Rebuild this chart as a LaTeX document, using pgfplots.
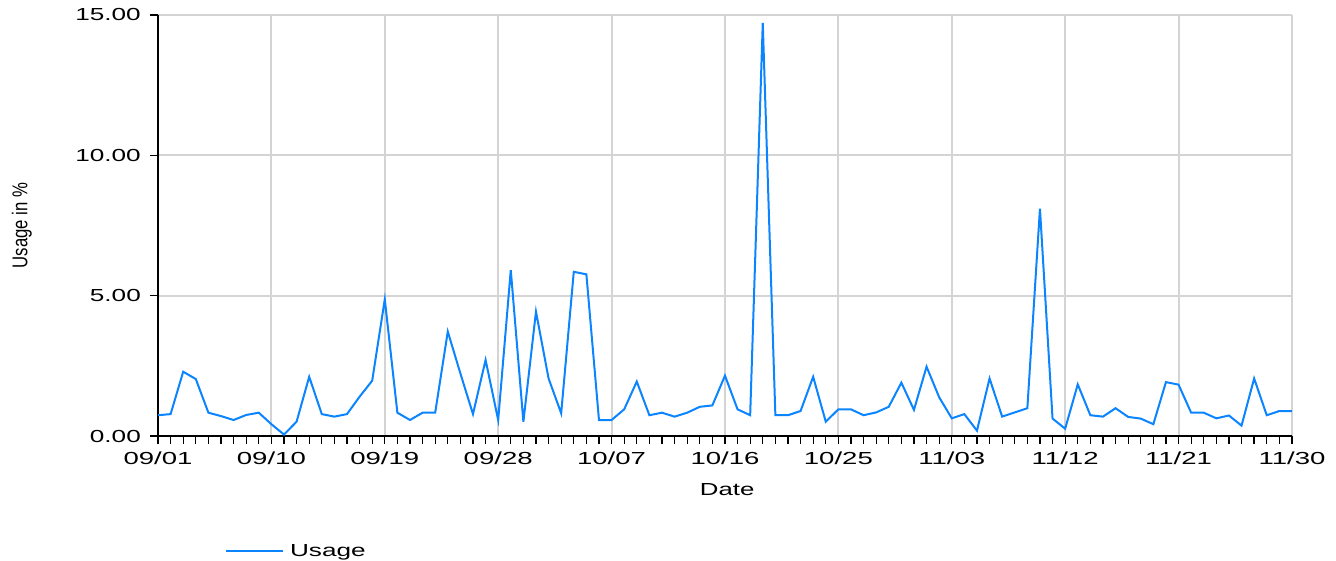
\documentclass[border=0pt]{standalone}
\usepackage{pgfplots}
\pgfplotsset{compat=1.18}
\usepackage{fontspec}
\setmainfont{Liberation Sans}
\newfontfamily\ytickfont[FakeStretch=1.5]{Liberation Sans}
\newfontfamily\xtickfont[FakeStretch=1.58]{Liberation Sans}
\newfontfamily\xlabfont[FakeStretch=1.48]{Liberation Sans}
\newfontfamily\legfont[FakeStretch=1.5]{Liberation Sans}
\newfontfamily\ylabfont[FakeStretch=0.78]{Liberation Sans}
\definecolor{usage}{RGB}{10,132,255}
\definecolor{gridgray}{RGB}{212,212,212}
\begin{document}
\begin{tikzpicture}
\useasboundingbox (0,0) rectangle (1336bp,561bp);
\begin{axis}[
  at={(158bp,125bp)}, anchor=south west,
  scale only axis, width=1134bp, height=421bp,
  xmin=0, xmax=90, ymin=0, ymax=15,
  axis x line=bottom, axis y line=left,
  axis line style={-, line width=1.6bp, black},
  xtick={0,9,...,90},
  xticklabels={09/01,09/10,09/19,09/28,10/07,10/16,10/25,11/03,11/12,11/21,11/30},
  minor x tick num=8,
  ytick={0,5,10,15}, yticklabels={0.00,5.00,10.00,15.00},
  tick align=outside, major tick length=8bp, minor tick length=8bp,
  every tick/.style={black, line width=1.3bp},
  every minor tick/.style={black, line width=1.3bp},
  grid=major, major grid style={gridgray, line width=2bp},
  xticklabel style={font=\xtickfont\fontsize{17.5}{17.5}\selectfont, inner sep=0pt, yshift=-8bp},
  yticklabel style={font=\ytickfont\fontsize{17.5}{17.5}\selectfont, inner sep=0pt, xshift=-9bp},
  xlabel={Date},
  xlabel style={at={(axis description cs:0.502,-0.127)}, anchor=center, font=\xlabfont\fontsize{17.5}{17.5}\selectfont},
  ylabel={Usage in \%},
  ylabel style={at={(axis description cs:-0.12,0.5)}, anchor=center, font=\ylabfont\fontsize{21.5}{21.5}\selectfont},
  legend style={at={(axis description cs:0.059,-0.273)}, anchor=west, draw=none, fill=none, inner sep=0pt, font=\legfont\fontsize{17.5}{17.5}\selectfont, nodes={inner xsep=6bp}},
  legend image code/.code={\draw[#1] (0bp,0bp) -- (57bp,0bp);},
]
\addplot[usage, line width=2bp] table {
x y
0 0.74
1 0.78
2 2.29
3 2.03
4 0.83
5 0.71
6 0.57
7 0.75
8 0.83
9 0.42
10 0.05
11 0.51
12 2.11
13 0.78
14 0.69
15 0.78
16 1.40
17 1.97
18 4.87
19 0.83
20 0.57
21 0.83
22 0.83
23 3.72
24 2.23
25 0.78
26 2.71
27 0.57
28 5.91
29 0.51
30 4.43
31 2.05
32 0.81
33 5.85
34 5.76
35 0.57
36 0.57
37 0.95
38 1.94
39 0.74
40 0.83
41 0.69
42 0.83
43 1.04
44 1.09
45 2.15
46 0.95
47 0.74
48 14.72
49 0.74
50 0.74
51 0.89
52 2.11
53 0.51
54 0.95
55 0.95
56 0.74
57 0.84
58 1.04
59 1.90
60 0.93
61 2.47
62 1.38
63 0.63
64 0.78
65 0.19
66 2.05
67 0.69
68 0.84
69 0.99
70 8.10
71 0.62
72 0.26
73 1.84
74 0.74
75 0.69
76 0.99
77 0.68
78 0.62
79 0.42
80 1.92
81 1.83
82 0.83
83 0.83
84 0.63
85 0.73
86 0.37
87 2.05
88 0.74
89 0.89
90 0.89
};
\addlegendentry{Usage}
\end{axis}
\end{tikzpicture}
\end{document}
